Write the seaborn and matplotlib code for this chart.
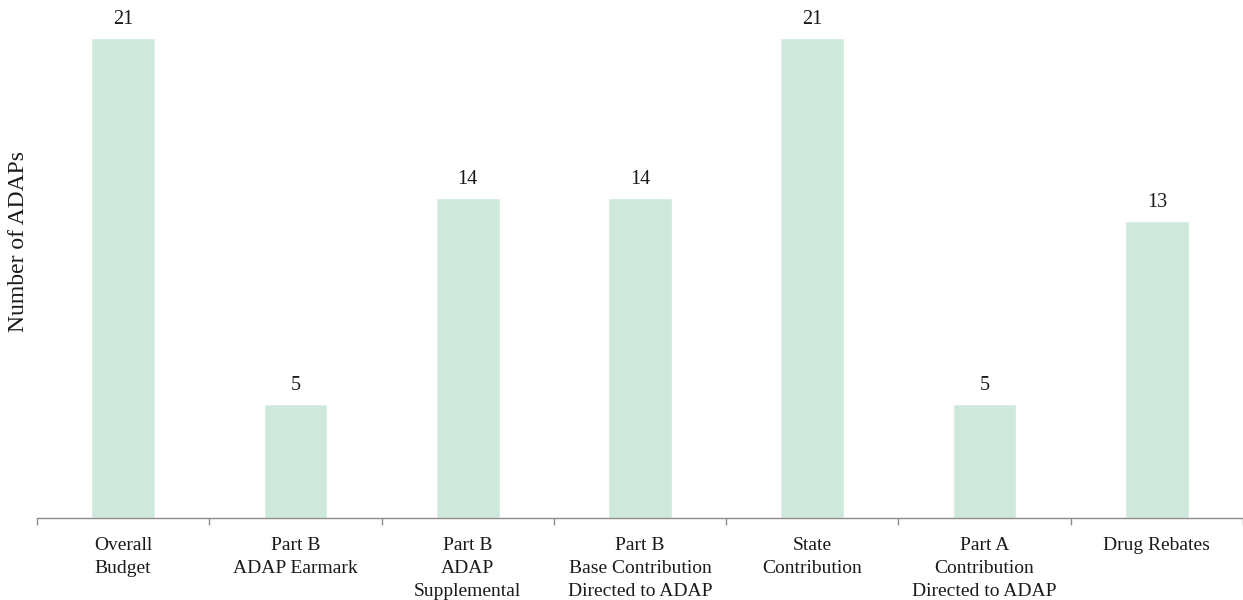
import matplotlib
matplotlib.use("Agg")
import matplotlib.pyplot as plt
import seaborn as sns
import pandas as pd
from matplotlib.ticker import FixedLocator

categories = [
    "Overall\nBudget",
    "Part B\nADAP Earmark",
    "Part B\nADAP\nSupplemental",
    "Part B\nBase Contribution\nDirected to ADAP",
    "State\nContribution",
    "Part A\nContribution\nDirected to ADAP",
    "Drug Rebates",
]
counts = [21, 5, 14, 14, 21, 5, 13]

df = pd.DataFrame({"source": categories, "adaps": counts})

sns.set_theme(style="white")
plt.rcParams["font.family"] = ["Liberation Serif", "DejaVu Serif"]

fig = plt.figure(figsize=(12.43, 6.0), dpi=100)
ax = fig.add_axes([37 / 1243, 82 / 600, 1 - 37 / 1243, 518 / 600])

bar_color = "#cfe8dc"
sns.barplot(data=df, x="source", y="adaps", color=bar_color, width=0.37,
            saturation=1, ax=ax)

for i, v in enumerate(counts):
    ax.text(i, v + 0.38, str(v), ha="center", va="bottom", fontsize=14.5,
            color="#1a1a1a")

ax.set_xlim(-0.5, len(categories) - 0.5)
ax.set_ylim(0, 22.66)

for side in ["top", "right", "left"]:
    ax.spines[side].set_visible(False)
ax.spines["bottom"].set_color("#8c8c8c")
ax.spines["bottom"].set_linewidth(1.0)

ax.set_yticks([])
ax.set_xlabel("")
ax.set_ylabel("Number of ADAPs", fontsize=17, color="#1a1a1a")
ax.yaxis.set_label_coords(-8 / 1206, 0.533)

# category labels under the bars, tick marks at the category boundaries
ax.tick_params(axis="x", which="major", length=0, pad=14, labelsize=14,
               labelcolor="#1a1a1a")
ax.xaxis.set_minor_locator(FixedLocator([i + 0.5 for i in range(-1, len(categories))]))
ax.tick_params(axis="x", which="minor", bottom=True, length=5, width=1,
               color="#8c8c8c", direction="out")
for lbl in ax.get_xticklabels():
    lbl.set_va("top")
    lbl.set_linespacing(1.45)

fig.savefig("out.png", dpi=100)
